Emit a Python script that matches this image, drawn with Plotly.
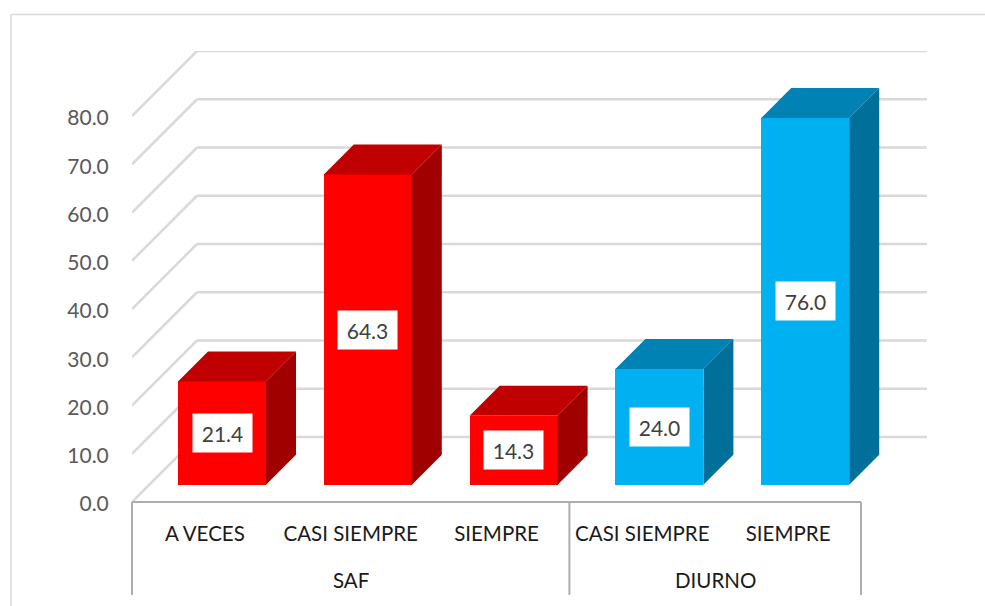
import plotly.graph_objects as go

categories = ["A VECES", "CASI SIEMPRE", "SIEMPRE", "CASI SIEMPRE", "SIEMPRE"]
values = [21.4, 64.3, 14.3, 24.0, 76.0]
groups = ["SAF", "DIURNO"]
group_sizes = [3, 2]
y_ticks = [0, 10, 20, 30, 40, 50, 60, 70, 80]

# palette per group: front, top, side
palette = {
    "SAF": ("#FF0000", "#C00000", "#A00000"),
    "DIURNO": ("#00B0F0", "#0083B4", "#00709A"),
}

# layout geometry (pixels)
W, H = 985, 606
PL, PR, PT, PB = 132, 927, 51, 502
UX = (861 - 132) / 5          # px per category
UY = (502 - 116) / 80         # px per value unit
FLOOR_PX = 65                 # depth of the floor, both directions
BAR_W = 88 / UX
BAR_SHIFT = 17.1 / UX
BAR_BASE = 17.3 / UY
BAR_DX = 30 / UX
BAR_DY = 30 / UY
FLOOR_DX = FLOOR_PX / UX
FLOOR_DY = FLOOR_PX / UY
GRID = "#D9D9D9"
AXIS = "#ADADAD"

cat_group = [g for g, n in zip(groups, group_sizes) for _ in range(n)]
xs = list(range(len(categories)))
x_min = -0.5
x_max = x_min + (PR - PL) / UX
x_right = x_min + len(categories)

fig = go.Figure()

# front faces
fig.add_trace(go.Bar(
    x=[x + BAR_SHIFT for x in xs],
    y=values,
    base=BAR_BASE,
    width=BAR_W,
    marker=dict(color=[palette[g][0] for g in cat_group], line_width=0),
    hoverinfo="skip",
    showlegend=False,
))

# top and side faces, derived from the values
for x, v, g in zip(xs, values, cat_group):
    left = x + BAR_SHIFT - BAR_W / 2
    right = left + BAR_W
    bottom = BAR_BASE
    top = BAR_BASE + v
    fig.add_trace(go.Scatter(
        x=[left, right, right + BAR_DX, left + BAR_DX, left],
        y=[top, top, top + BAR_DY, top + BAR_DY, top],
        fill="toself", fillcolor=palette[g][1], mode="none",
        hoverinfo="skip", showlegend=False,
    ))
    fig.add_trace(go.Scatter(
        x=[right, right + BAR_DX, right + BAR_DX, right, right],
        y=[bottom, bottom + BAR_DY, top + BAR_DY, top, bottom],
        fill="toself", fillcolor=palette[g][2], mode="none",
        hoverinfo="skip", showlegend=False,
    ))

shapes = []
# 3D gridlines: slanted side wall + back wall
for t in y_ticks:
    shapes.append(dict(type="line", layer="below", xref="x", yref="y",
                       x0=x_min, y0=t, x1=x_min + FLOOR_DX, y1=t + FLOOR_DY,
                       line=dict(color=GRID, width=2.5)))
    shapes.append(dict(type="line", layer="below", xref="x", yref="y",
                       x0=x_min + FLOOR_DX, y0=t + FLOOR_DY, x1=x_max, y1=t + FLOOR_DY,
                       line=dict(color=GRID, width=2.5)))

# category axis bracket
bracket_bottom = (PB - 595) / (PB - PT)
shapes.append(dict(type="line", xref="x", yref="paper", x0=x_min, x1=x_right, y0=0, y1=0,
                   line=dict(color=AXIS, width=2)))
edge = x_min
edges = [edge]
for n in group_sizes:
    edge += n
    edges.append(edge)
for e in edges:
    shapes.append(dict(type="line", xref="paper", yref="paper",
                       x0=(e - x_min) * UX / (PR - PL),
                       x1=(e - x_min) * UX / (PR - PL),
                       y0=0, y1=bracket_bottom,
                       line=dict(color=AXIS, width=2)))

# chart border
shapes.append(dict(type="line", xref="paper", yref="paper",
                   x0=(11 - PL) / (PR - PL), x1=(985 - PL) / (PR - PL),
                   y0=(PB - 14.5) / (PB - PT), y1=(PB - 14.5) / (PB - PT),
                   line=dict(color=GRID, width=1.5)))
shapes.append(dict(type="line", xref="paper", yref="paper",
                   x0=(11 - PL) / (PR - PL), x1=(11 - PL) / (PR - PL),
                   y0=(PB - 14.5) / (PB - PT), y1=(PB - 606) / (PB - PT),
                   line=dict(color=GRID, width=1.5)))

annotations = []
# value labels
for x, v in zip(xs, values):
    annotations.append(dict(
        x=x + BAR_SHIFT, y=BAR_BASE + v / 2, xref="x", yref="y",
        text=f"{v:.1f}", showarrow=False, bgcolor="#FFFFFF",
        width=59, height=38, align="center", valign="middle", borderpad=0,
        font=dict(family="Lato", size=21, color="#404040"),
    ))
# group labels
start = x_min
for g, n in zip(groups, group_sizes):
    annotations.append(dict(
        x=start + n / 2, y=(PB - 580) / (PB - PT), xref="x", yref="paper",
        text=g, showarrow=False, xanchor="center", yanchor="middle",
        font=dict(family="Lato", size=20.5, color="#1A1A1A"),
    ))
    start += n

fig.update_layout(
    width=W, height=H,
    margin=dict(l=PL, r=W - PR, t=PT, b=H - PB, pad=0),
    paper_bgcolor="white", plot_bgcolor="rgba(0,0,0,0)",
    showlegend=False,
    bargap=0,
    shapes=shapes,
    annotations=annotations,
    xaxis=dict(
        range=[x_min, x_max], tickmode="array", tickvals=xs, ticktext=categories,
        showgrid=False, zeroline=False, showline=False,
        ticks="outside", ticklen=13, tickcolor="rgba(0,0,0,0)",
        tickfont=dict(family="Lato", size=20.5, color="#1A1A1A"),
    ),
    yaxis=dict(
        range=[0, (PB - PT) / UY], tickmode="array", tickvals=y_ticks, tickformat=".1f",
        showgrid=False, zeroline=False, showline=False,
        ticks="outside", ticklen=18, tickcolor="rgba(0,0,0,0)",
        ticklabelshift=2,
        tickfont=dict(family="Lato", size=21, color="#595959"),
    ),
)

fig.write_html("out.html", config={"displayModeBar": False},
               post_script="document.body.style.margin='0';")
